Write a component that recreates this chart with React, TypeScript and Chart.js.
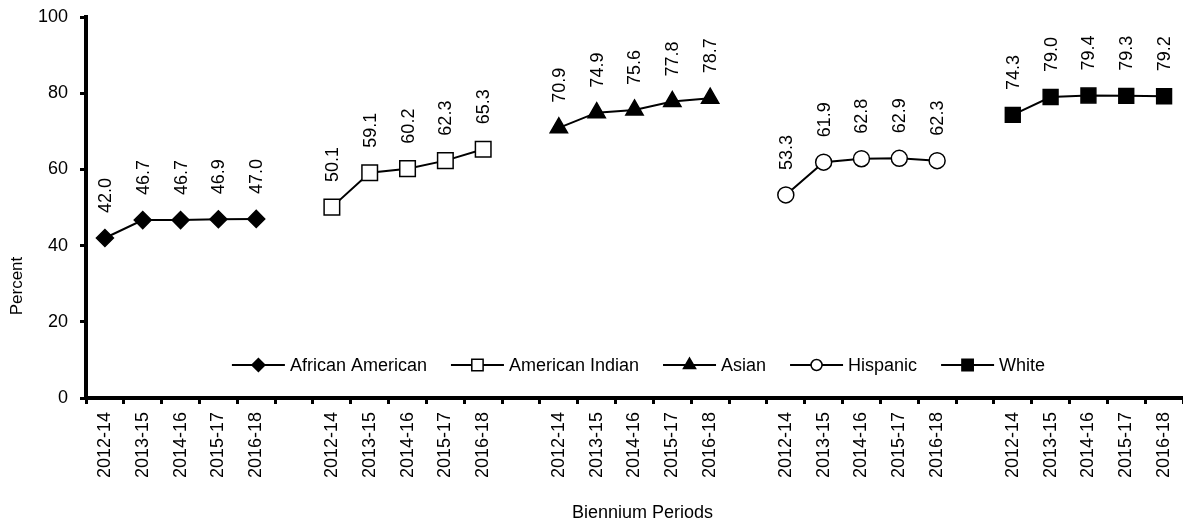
import React, { useEffect, useRef } from 'react';
import { Chart, registerables } from 'chart.js';
import { drawPoint } from 'chart.js/helpers';

Chart.register(...registerables);

const FONT = '"Liberation Sans", Arial, Helvetica, sans-serif';

const seriesNames = ['African American', 'American Indian', 'Asian', 'Hispanic', 'White'];
const periods = ['2012-14', '2013-15', '2014-16', '2015-17', '2016-18'];
const africanAmerican = [42.0, 46.7, 46.7, 46.9, 47.0];
const americanIndian = [50.1, 59.1, 60.2, 62.3, 65.3];
const asian = [70.9, 74.9, 75.6, 77.8, 78.7];
const hispanic = [53.3, 61.9, 62.8, 62.9, 62.3];
const white = [74.3, 79.0, 79.4, 79.3, 79.2];
const yTicks = [0, 20, 40, 60, 80, 100];
const yTitle = 'Percent';
const xTitle = 'Biennium Periods';

const seriesValues = [africanAmerican, americanIndian, asian, hispanic, white];

const seriesStyles = [
  { pointStyle: 'rectRot', radius: 8.5, fill: '#000', legendRadius: 6.5 },
  { pointStyle: 'rect', radius: 11, fill: '#fff', legendRadius: 8 },
  { pointStyle: 'triangle', radius: 10, fill: '#000', legendRadius: 7 },
  { pointStyle: 'circle', radius: 8, fill: '#fff', legendRadius: 5.5 },
  { pointStyle: 'rect', radius: 10.5, fill: '#000', legendRadius: 8 },
];

// categories: 5 periods per group, one blank slot between groups
const labels: string[] = [];
seriesNames.forEach((_, g) => {
  periods.forEach((p) => labels.push(p));
  if (g < seriesNames.length - 1) labels.push('');
});

const buildData = (g: number) => {
  const arr: (number | null)[] = labels.map(() => null);
  seriesValues[g].forEach((v, i) => {
    arr[g * (periods.length + 1) + i] = v;
  });
  return arr;
};

const valueLabels = {
  id: 'valueLabels',
  afterDatasetsDraw(chart: any) {
    const ctx = chart.ctx;
    ctx.save();
    ctx.font = `18px ${FONT}`;
    ctx.fillStyle = '#000';
    ctx.textAlign = 'left';
    ctx.textBaseline = 'middle';
    chart.data.datasets.forEach((ds: any, di: number) => {
      const meta = chart.getDatasetMeta(di);
      meta.data.forEach((pt: any, i: number) => {
        const v = ds.data[i];
        if (v == null) return;
        ctx.save();
        ctx.translate(pt.x, pt.y - 25);
        ctx.rotate(-Math.PI / 2);
        ctx.fillText(Number(v).toFixed(1), 0, 1);
        ctx.restore();
      });
    });
    ctx.restore();
  },
};

const insideLegend = {
  id: 'insideLegend',
  afterDraw(chart: any) {
    const { ctx, chartArea } = chart;
    ctx.save();
    ctx.font = `18px ${FONT}`;
    const lineLen = 53;
    const gapText = 5;
    const gapItem = 24;
    const items = chart.data.datasets.map((ds: any, i: number) => ({
      text: ds.label as string,
      w: ctx.measureText(ds.label).width,
      style: seriesStyles[i],
    }));
    const total =
      items.reduce((s: number, it: any) => s + lineLen + gapText + it.w, 0) + gapItem * (items.length - 1);
    let x = (chartArea.left + chartArea.right) / 2 + 4 - total / 2;
    const y = chartArea.bottom - 33;
    items.forEach((it: any) => {
      ctx.strokeStyle = '#000';
      ctx.lineWidth = 2;
      ctx.beginPath();
      ctx.moveTo(x, y);
      ctx.lineTo(x + lineLen, y);
      ctx.stroke();
      ctx.fillStyle = it.style.fill;
      ctx.strokeStyle = '#000';
      ctx.lineWidth = 1.5;
      drawPoint(ctx, { pointStyle: it.style.pointStyle, radius: it.style.legendRadius, rotation: 0, borderWidth: 1.5 } as any, x + lineLen / 2, y);
      ctx.fillStyle = '#000';
      ctx.textAlign = 'left';
      ctx.textBaseline = 'middle';
      ctx.fillText(it.text, x + lineLen + gapText, y + 1);
      x += lineLen + gapText + it.w + gapItem;
    });
    ctx.restore();
  },
};

const axisTitles = {
  id: 'axisTitles',
  afterDraw(chart: any) {
    const { ctx, chartArea } = chart;
    ctx.save();
    ctx.fillStyle = '#000';
    ctx.textAlign = 'center';
    ctx.textBaseline = 'middle';
    ctx.font = `17px ${FONT}`;
    ctx.save();
    ctx.translate(17, chartArea.bottom - 112);
    ctx.rotate(-Math.PI / 2);
    ctx.fillText(yTitle, 0, 0);
    ctx.restore();
    ctx.font = `18px ${FONT}`;
    ctx.fillText(xTitle, (chartArea.left + chartArea.right) / 2 + 8, chart.height - 14);
    ctx.restore();
  },
};

export default function App() {
  const canvasRef = useRef<HTMLCanvasElement | null>(null);

  useEffect(() => {
    if (!canvasRef.current) return;
    Chart.defaults.font.family = FONT;
    const chart = new Chart(canvasRef.current, {
      type: 'line',
      data: {
        labels,
        datasets: seriesNames.map((name, g) => ({
          label: name,
          data: buildData(g),
          borderColor: '#000',
          borderWidth: 2,
          backgroundColor: seriesStyles[g].fill,
          pointStyle: seriesStyles[g].pointStyle as any,
          pointRadius: seriesStyles[g].radius,
          pointBackgroundColor: seriesStyles[g].fill,
          pointBorderColor: '#000',
          pointBorderWidth: 1.5,
          spanGaps: false,
          tension: 0,
        })),
      },
      options: {
        animation: false,
        responsive: false,
        events: [],
        layout: { autoPadding: false, padding: { top: 17, left: 0, right: 0, bottom: 0 } },
        plugins: {
          legend: { display: false },
          tooltip: { enabled: false },
        },
        scales: {
          x: {
            type: 'category',
            offset: true,
            grid: {
              display: true,
              drawOnChartArea: false,
              drawTicks: true,
              tickLength: 6,
              tickWidth: 3,
              color: '#000',
              offset: true,
            },
            border: { display: true, color: '#000', width: 4 },
            ticks: {
              autoSkip: false,
              minRotation: 90,
              maxRotation: 90,
              padding: 8,
              color: '#000',
              font: { size: 18, family: FONT },
            },
            afterFit: (s: any) => {
              s.height = 129;
              s.paddingLeft = 0;
              s.paddingRight = 0;
            },
          },
          y: {
            min: 0,
            max: 100,
            grid: {
              display: true,
              drawOnChartArea: false,
              drawTicks: true,
              tickLength: 6,
              tickWidth: 3,
              color: '#000',
            },
            border: { display: true, color: '#000', width: 4 },
            ticks: {
              padding: 12,
              color: '#000',
              font: { size: 18, family: FONT },
            },
            afterBuildTicks: (s: any) => {
              s.ticks = yTicks.map((v) => ({ value: v }));
            },
            afterFit: (s: any) => {
              s.width = 86;
              s.paddingTop = 0;
              s.paddingBottom = 0;
            },
          },
        },
      },
      plugins: [valueLabels, insideLegend, axisTitles],
    });
    return () => chart.destroy();
  }, []);

  return (
    <div style={{ position: 'fixed', left: 0, top: 0, width: 1183, height: 527, overflow: 'hidden', background: '#fff' }}>
      <canvas ref={canvasRef} width={1183} height={527} style={{ display: 'block' }} />
    </div>
  );
}
